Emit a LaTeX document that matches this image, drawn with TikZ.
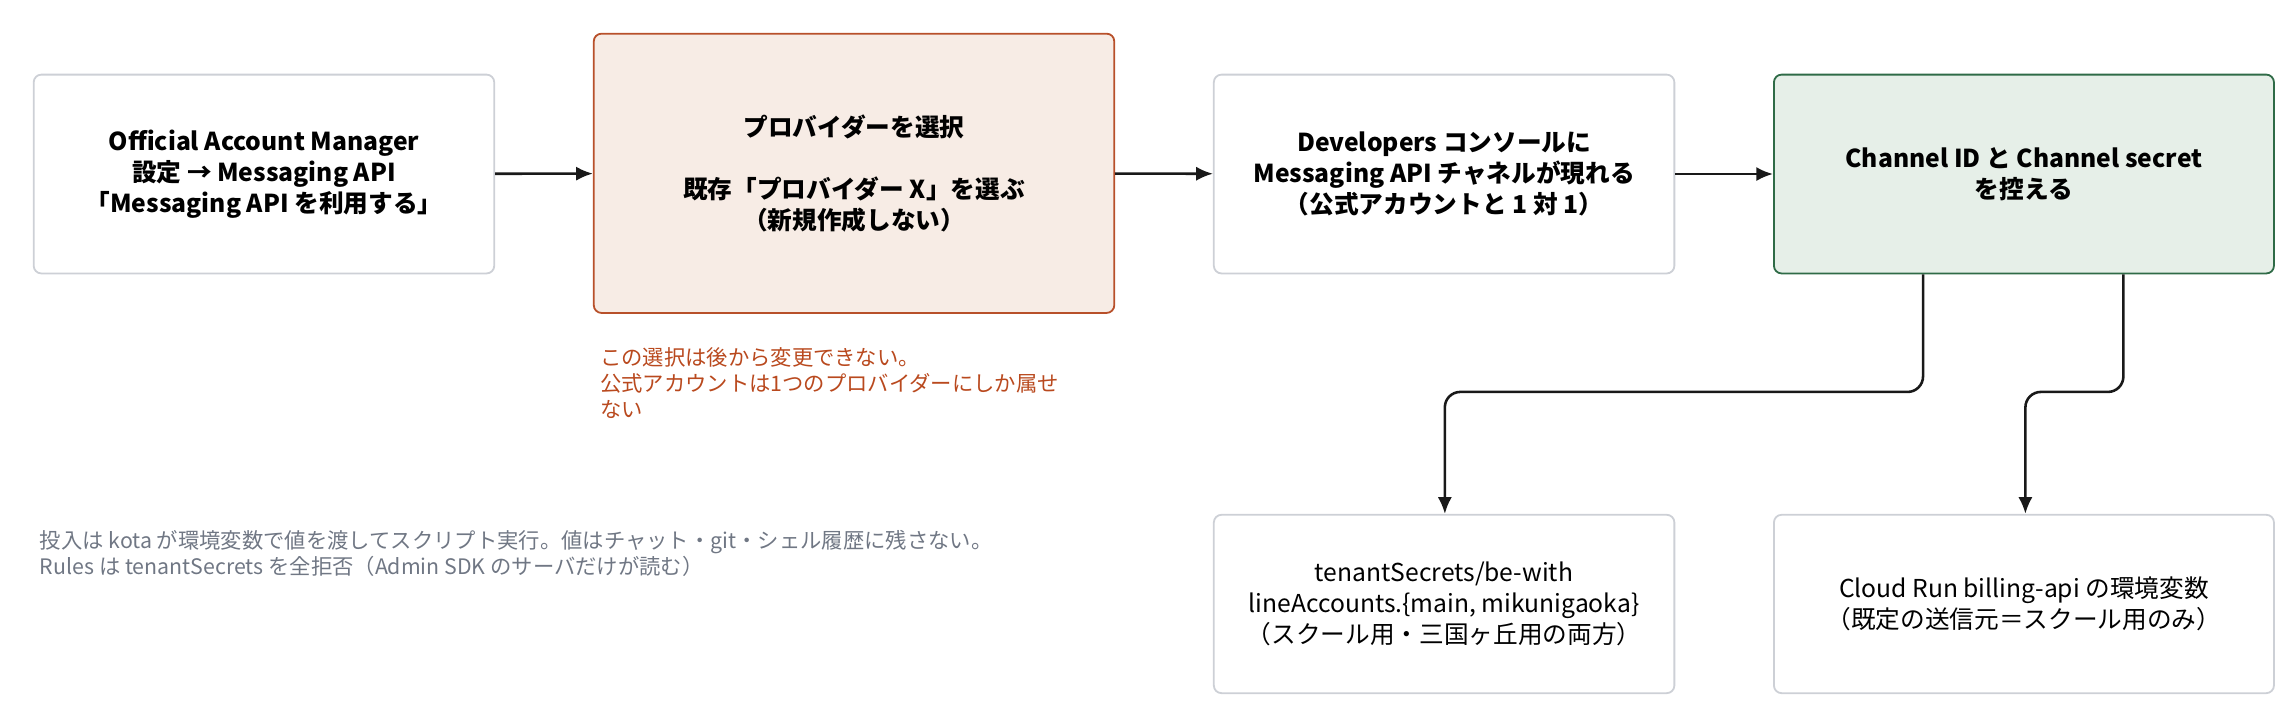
\documentclass[tikz,border=0pt]{standalone}
\usepackage{fontspec}
\setmainfont{Noto Sans CJK JP}
\usetikzlibrary{arrows.meta,positioning}
\definecolor{rustline}{HTML}{B8502A}
\definecolor{rustfill}{HTML}{F7ECE5}
\definecolor{rusttext}{HTML}{B9491E}
\definecolor{pineline}{HTML}{2F6B47}
\definecolor{pinefill}{HTML}{E6EFE8}
\definecolor{slatetext}{HTML}{707784}
\definecolor{frame}{HTML}{CDD0D6}
\tikzset{
	box/.style = {draw=frame, line width=0.7pt, rounded corners=3pt, fill=white,
		align=center, font=\fontsize{9.6}{12}\selectfont\bfseries, inner sep=2pt},
	plain/.style = {box, font=\fontsize{9.6}{12}\selectfont},
	link/.style = {-{Latex[length=6.5pt,width=5.5pt]}, line width=1pt, black!90},
	note/.style = {anchor=north west, align=left, inner sep=0pt,
		font=\fontsize{8.3}{10.2}\selectfont}
}
\begin{document}
\begin{tikzpicture}[x=0.02cm,y=-0.02cm]
		\useasboundingbox (0,0) rectangle (1568,488);
		
		\node[box, minimum width=6.3cm, minimum height=2.72cm] (oam) at (180.5,119)
			{Official Account Manager\\設定 → Messaging API\\「Messaging API を利用する」};
		\node[box, draw=rustline, fill=rustfill, minimum width=7.12cm,
			minimum height=3.82cm] (prov) at (584,118.5)
			{プロバイダーを選択\\[12pt]既存「プロバイダー X」を選ぶ\\（新規作成しない）};
		\node[box, minimum width=6.3cm, minimum height=2.72cm] (dev) at (987.5,119)
			{Developers コンソールに\\Messaging API チャネルが現れる\\（公式アカウントと 1 対 1）};
		\node[box, draw=pineline, fill=pinefill, minimum width=6.84cm,
			minimum height=2.72cm] (chan) at (1384,119)
			{Channel ID と Channel secret\\を控える};
		\node[plain, minimum width=6.3cm, minimum height=2.44cm] (tenant) at (987.5,413)
			{tenantSecrets/be-with\\lineAccounts.\{main, mikunigaoka\}\\（スクール用・三国ヶ丘用の両方）};
		\node[plain, minimum width=6.84cm, minimum height=2.44cm] (run) at (1384,413)
			{Cloud Run billing-api の環境変数\\（既定の送信元＝スクール用のみ）};
		
		\node[note, text=rusttext] (warn) at (410,237)
			{この選択は後から変更できない。\\公式アカウントは1つのプロバイダーにしか属せ\\ない};
		\node[note, text=slatetext] (memo) at (27,362)
			{投入は kota が環境変数で値を渡してスクリプト実行。値はチャット・git・シェル履歴に残さない。\\Rules は tenantSecrets を全拒否（Admin SDK のサーバだけが読む）};
		
		\draw[link] (oam) -- (prov);
		\draw[link] (prov) -- (dev);
		\draw[link] (dev) -- (chan);
		
		\draw[link, rounded corners=6pt] (chan.south -| 1315,0) |- (988,268) -- (tenant.north -| 988,0);
		\draw[link, rounded corners=6pt] (chan.south -| 1452,0) |- (1385,268) -- (run.north -| 1385,0);
	\end{tikzpicture}
\end{document}
